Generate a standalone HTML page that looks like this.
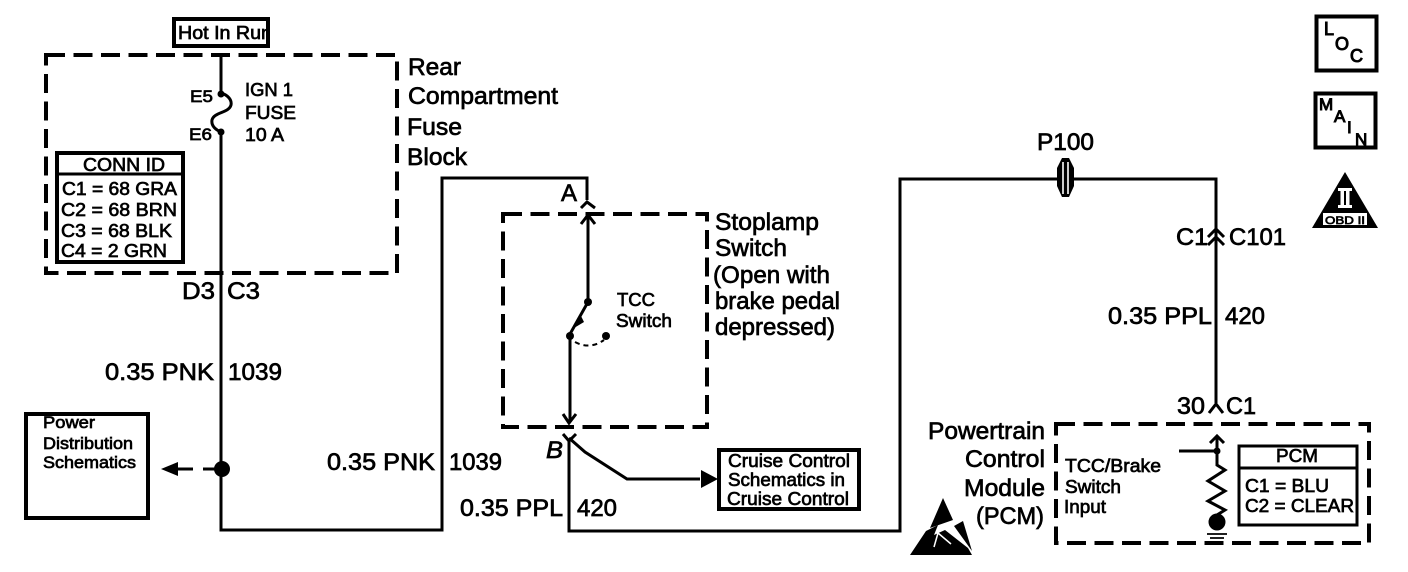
<!DOCTYPE html>
<html>
<head>
<meta charset="utf-8">
<style>
html,body{margin:0;padding:0;background:#fff;}
svg{display:block;}
text{font-family:"Liberation Sans",sans-serif;fill:#000;stroke:#000;stroke-width:.7;}
.l{font-size:24px;}
.m{font-size:18.5px;}
.s{font-size:17px;}
.w{fill:none;stroke:#000;stroke-width:3;}
.d{fill:none;stroke:#000;stroke-width:4;stroke-dasharray:19 8.5;}
.b{fill:#fff;stroke:#000;stroke-width:4;}
</style>
</head>
<body>
<svg width="1408" height="572" viewBox="0 0 1408 572" xmlns="http://www.w3.org/2000/svg">
<rect width="1408" height="572" fill="#fff"/>

<!-- Dashed boxes -->
<rect class="d" x="46" y="55" width="351" height="218"/>
<rect class="d" x="503" y="214" width="204" height="213"/>
<rect class="d" x="1056" y="424" width="313" height="119"/>

<!-- Hot In Run -->
<rect class="b" x="174" y="19" width="94" height="27"/>
<svg x="176" y="20" width="90" height="25"><text x="2" y="19" class="m" textLength="94" lengthAdjust="spacingAndGlyphs">Hot In Run</text></svg>

<!-- Fuse feed wiring -->
<path class="w" d="M221 55V93C228 95 232 100 231 105C229 113 214 112 212 120C211 126 216 130 221 132V530H442V178H587V200"/>
<circle cx="221" cy="94" r="3.5"/><circle cx="221" cy="132" r="3.5"/>
<text x="190" y="102" class="s" textLength="23" lengthAdjust="spacingAndGlyphs">E5</text>
<text x="189" y="140" class="s" textLength="23" lengthAdjust="spacingAndGlyphs">E6</text>
<text x="245" y="96" class="m" textLength="48" lengthAdjust="spacingAndGlyphs">IGN 1</text>
<text x="245" y="119" class="m" textLength="51" lengthAdjust="spacingAndGlyphs">FUSE</text>
<text x="245" y="141" class="m" textLength="39" lengthAdjust="spacingAndGlyphs">10 A</text>

<text x="408" y="75" class="l" textLength="53" lengthAdjust="spacingAndGlyphs">Rear</text>
<text x="408" y="104" class="l" textLength="150" lengthAdjust="spacingAndGlyphs">Compartment</text>
<text x="407" y="135" class="l" textLength="55" lengthAdjust="spacingAndGlyphs">Fuse</text>
<text x="407" y="165" class="l" textLength="60" lengthAdjust="spacingAndGlyphs">Block</text>

<!-- CONN ID -->
<rect class="b" x="57" y="153" width="126" height="109"/>
<path class="w" d="M57 174H183"/>
<text x="83" y="171" class="m" textLength="82" lengthAdjust="spacingAndGlyphs">CONN ID</text>
<text x="62" y="195" class="m" textLength="115" lengthAdjust="spacingAndGlyphs">C1 = 68 GRA</text>
<text x="61" y="216" class="m" textLength="116" lengthAdjust="spacingAndGlyphs">C2 = 68 BRN</text>
<text x="61" y="237" class="m" textLength="111" lengthAdjust="spacingAndGlyphs">C3 = 68 BLK</text>
<text x="61" y="257" class="m" textLength="106" lengthAdjust="spacingAndGlyphs">C4 = 2 GRN</text>

<text x="182" y="299" class="l" textLength="33" lengthAdjust="spacingAndGlyphs">D3</text>
<text x="227" y="299" class="l" textLength="33" lengthAdjust="spacingAndGlyphs">C3</text>
<text x="105" y="380" class="l" textLength="109" lengthAdjust="spacingAndGlyphs">0.35 PNK</text>
<text x="228" y="380" class="l" textLength="54" lengthAdjust="spacingAndGlyphs">1039</text>

<!-- Power Distribution -->
<rect class="b" x="26" y="414" width="122" height="104"/>
<text x="43" y="428" class="s" textLength="52" lengthAdjust="spacingAndGlyphs">Power</text>
<text x="43" y="449" class="s" textLength="90" lengthAdjust="spacingAndGlyphs">Distribution</text>
<text x="43" y="468" class="s" textLength="93" lengthAdjust="spacingAndGlyphs">Schematics</text>
<path d="M161 469L178 462V476Z"/>
<path class="w" d="M176 469H193M203 469H222"/>
<circle cx="222" cy="469" r="8"/>

<!-- Connector A and switch -->
<path class="w" d="M581 208L587 202L595 208"/>
<text x="561" y="201" class="l" textLength="16" lengthAdjust="spacingAndGlyphs">A</text>
<path class="w" d="M588 215V302L570 334V422"/>
<path class="w" d="M581 224L588 215L595 224"/>
<path class="w" d="M563 414L569 423L576 414"/>
<circle cx="588" cy="302" r="4"/>
<circle cx="570" cy="336" r="4"/>
<path d="M574 328L581 316L584 322Z"/>
<circle cx="606" cy="336" r="4"/>
<path d="M575 342Q590 350 604 340" fill="none" stroke="#000" stroke-width="2" stroke-dasharray="5 4"/>
<text x="617" y="306" class="m" textLength="38" lengthAdjust="spacingAndGlyphs">TCC</text>
<text x="616" y="327" class="m" textLength="56" lengthAdjust="spacingAndGlyphs">Switch</text>

<text x="715" y="230" class="l" textLength="104" lengthAdjust="spacingAndGlyphs">Stoplamp</text>
<text x="715" y="256" class="l" textLength="72" lengthAdjust="spacingAndGlyphs">Switch</text>
<text x="713" y="283" class="l" textLength="117" lengthAdjust="spacingAndGlyphs">(Open with</text>
<text x="715" y="309" class="l" textLength="125" lengthAdjust="spacingAndGlyphs">brake pedal</text>
<text x="715" y="335" class="l" textLength="120" lengthAdjust="spacingAndGlyphs">depressed)</text>

<!-- B / purple wire -->
<text x="546" y="458" class="l" font-style="italic" textLength="17" lengthAdjust="spacingAndGlyphs">B</text>
<path class="w" d="M563 434L569 441L576 434M569 441V531H900V179H1057M1074 179H1216V403"/>
<path class="w" d="M569 438L585 452L627 479H700"/>
<path d="M718 479L701 470V488Z"/>
<rect class="b" x="719" y="450" width="140" height="59"/>
<text x="728" y="467" class="m" textLength="122" lengthAdjust="spacingAndGlyphs">Cruise Control</text>
<text x="728" y="486" class="m" textLength="117" lengthAdjust="spacingAndGlyphs">Schematics in</text>
<text x="727" y="505" class="m" textLength="122" lengthAdjust="spacingAndGlyphs">Cruise Control</text>

<text x="327" y="470" class="l" textLength="108" lengthAdjust="spacingAndGlyphs">0.35 PNK</text>
<text x="449" y="470" class="l" textLength="53" lengthAdjust="spacingAndGlyphs">1039</text>
<text x="460" y="516" class="l" textLength="103" lengthAdjust="spacingAndGlyphs">0.35 PPL</text>
<text x="577" y="516" class="l" textLength="40" lengthAdjust="spacingAndGlyphs">420</text>

<!-- P100 splice -->
<text x="1037" y="150" class="l" textLength="57" lengthAdjust="spacingAndGlyphs">P100</text>
<path d="M1062 158H1069L1074 168V186L1069 197H1062L1057 186V168Z" fill="#000"/>
<path d="M1063 162V194M1068 162V194" stroke="#fff" stroke-width="1.6" fill="none"/>

<!-- C101 -->
<path class="w" d="M1208 237L1216 229L1224 237M1208 245L1216 237L1224 245"/>
<text x="1176" y="245" class="l" textLength="32" lengthAdjust="spacingAndGlyphs">C1</text>
<text x="1229" y="245" class="l" textLength="57" lengthAdjust="spacingAndGlyphs">C101</text>
<text x="1108" y="324" class="l" textLength="104" lengthAdjust="spacingAndGlyphs">0.35 PPL</text>
<text x="1225" y="324" class="l" textLength="40" lengthAdjust="spacingAndGlyphs">420</text>
<text x="1177" y="414" class="l" textLength="28" lengthAdjust="spacingAndGlyphs">30</text>
<text x="1226" y="414" class="l" textLength="30" lengthAdjust="spacingAndGlyphs">C1</text>
<path class="w" d="M1209 413L1216 404L1223 413"/>

<!-- PCM -->
<text x="928" y="439" class="l" textLength="117" lengthAdjust="spacingAndGlyphs">Powertrain</text>
<text x="965" y="467" class="l" textLength="80" lengthAdjust="spacingAndGlyphs">Control</text>
<text x="964" y="496" class="l" textLength="81" lengthAdjust="spacingAndGlyphs">Module</text>
<text x="976" y="524" class="l" textLength="68" lengthAdjust="spacingAndGlyphs">(PCM)</text>

<text x="1065" y="472" class="m" textLength="96" lengthAdjust="spacingAndGlyphs">TCC/Brake</text>
<text x="1065" y="493" class="m" textLength="56" lengthAdjust="spacingAndGlyphs">Switch</text>
<text x="1064" y="513" class="m" textLength="42" lengthAdjust="spacingAndGlyphs">Input</text>

<path class="w" d="M1179 451H1217M1217 436V465L1225 470L1208 481L1225 491L1208 501L1225 510L1217 515V522"/>
<path class="w" d="M1210 443L1217 436L1224 443"/>
<circle cx="1217" cy="451" r="3.5"/>
<circle cx="1217" cy="522" r="8.5"/>
<path d="M1207 534H1227M1210 538H1224M1213 542H1221" stroke="#000" stroke-width="1.8" fill="none"/>

<rect x="1239" y="446" width="118" height="79" fill="#fff" stroke="#000" stroke-width="3"/>
<path class="w" d="M1239 468H1357"/>
<text x="1276" y="462" class="m" textLength="42" lengthAdjust="spacingAndGlyphs">PCM</text>
<text x="1245" y="492" class="m" textLength="84" lengthAdjust="spacingAndGlyphs">C1 = BLU</text>
<text x="1245" y="512" class="m" textLength="109" lengthAdjust="spacingAndGlyphs">C2 = CLEAR</text>

<!-- ESD symbol -->
<path d="M943 498L953 520L930 528Z"/>
<path d="M926 531L938 525L934 535L945 530L968 548L972 555H910Z"/>
<path d="M954 526L963 521L972 551Z"/>
<path d="M934 547L938 533L951 544" fill="none" stroke="#fff" stroke-width="1.5"/>

<!-- LOC -->
<rect x="1316.5" y="16.5" width="60" height="54" fill="#fff" stroke="#000" stroke-width="4"/>
<text x="1324" y="35" font-size="18" style="stroke-width:1">L</text>
<text x="1335" y="50" font-size="18" style="stroke-width:1">O</text>
<text x="1350" y="62" font-size="18" style="stroke-width:1">C</text>

<!-- MAIN -->
<rect x="1315.5" y="93.5" width="60" height="54" fill="#fff" stroke="#000" stroke-width="4"/>
<text x="1319" y="110" font-size="17" style="stroke-width:1">M</text>
<text x="1334" y="122" font-size="17" style="stroke-width:1">A</text>
<text x="1347" y="133" font-size="17" style="stroke-width:1">I</text>
<text x="1355" y="145" font-size="17" style="stroke-width:1">N</text>

<!-- OBD II triangle -->
<path d="M1345 172L1378 228H1312Z"/>
<path d="M1338 188H1352V191H1349.5V205H1352V208H1338V205H1340.5V191H1338ZM1344 191V205H1346V191Z" fill="#fff"/>
<rect x="1323" y="213" width="44" height="12" fill="#fff"/>
<text x="1325" y="224" font-size="11" textLength="40" lengthAdjust="spacingAndGlyphs">OBD II</text>
</svg>
</body>
</html>
